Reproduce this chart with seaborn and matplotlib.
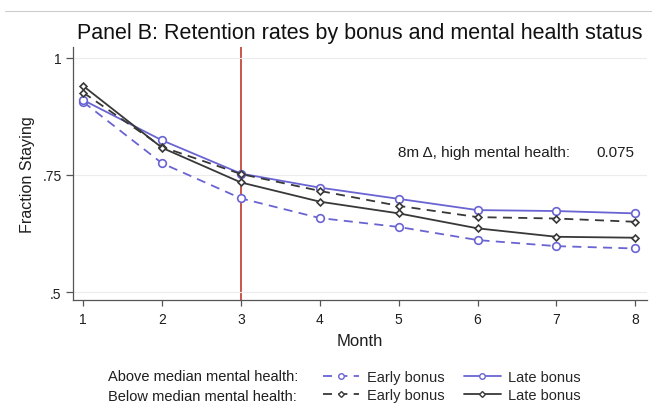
import matplotlib
matplotlib.use("Agg")
import matplotlib.pyplot as plt
from matplotlib.lines import Line2D
import seaborn as sns
import pandas as pd

months = [1, 2, 3, 4, 5, 6, 7, 8]
above_early = [0.906, 0.775, 0.700, 0.658, 0.639, 0.611, 0.598, 0.593]
above_late = [0.910, 0.824, 0.753, 0.723, 0.699, 0.675, 0.673, 0.668]
below_early = [0.926, 0.810, 0.752, 0.716, 0.684, 0.660, 0.657, 0.650]
below_late = [0.940, 0.808, 0.734, 0.693, 0.668, 0.636, 0.618, 0.616]
delta_high = 0.075

y_ticks = [0.5, 0.75, 1.0]
y_tick_labels = [".5", ".75", "1"]

BLUE = "#6a64d2"
DARK = "#383838"
RED = "#c0392b"
TXT = "#1e1e1e"
DASH = (0, (5, 3.5))

sns.set_theme(style="white")
plt.rcParams["font.family"] = ["Liberation Sans", "DejaVu Sans"]

fig = plt.figure(figsize=(6.52, 4.10), dpi=100)
ax = fig.add_axes([0.1115, 0.2659, 0.8805, 0.6171])

series = [
    (above_early, BLUE, DASH, "o", 5.5),
    (above_late, BLUE, "-", "o", 5.5),
    (below_early, DARK, DASH, "D", 3.5),
    (below_late, DARK, "-", "D", 3.5),
]
for vals, col, ls, mk, ms in series:
    df = pd.DataFrame({"Month": months, "value": vals})
    sns.lineplot(data=df, x="Month", y="value", ax=ax, color=col, linestyle=ls,
                 marker=mk, markersize=ms, markerfacecolor="white",
                 markeredgecolor=col, markeredgewidth=1.2, linewidth=1.3)

ax.axvline(3, color=RED, linewidth=1.2, zorder=0.5)

ax.set_xlim(0.866, 8.145)
ax.set_ylim(0.483, 1.0235)
ax.set_xticks(months)
ax.set_yticks(y_ticks)
ax.set_yticklabels(y_tick_labels)
ax.grid(axis="y", color="#ececec", linewidth=0.8)
ax.set_axisbelow(True)
for s in ["top", "right"]:
    ax.spines[s].set_visible(False)
for s in ["left", "bottom"]:
    ax.spines[s].set_color("#555555")
    ax.spines[s].set_linewidth(0.9)
ax.tick_params(axis="x", direction="out", length=4, width=0.9, color="#555555",
               labelsize=10, labelcolor=TXT, bottom=True, pad=5)
ax.tick_params(axis="y", direction="out", length=5, width=0.9, color="#555555",
               labelsize=10, labelcolor=TXT, left=True, pad=3)
ax.set_xlabel("Month", fontsize=12, color=TXT, labelpad=5)
ax.set_ylabel("Fraction Staying", fontsize=11.6, color=TXT, labelpad=5)

ax.text(0.566, 0.585, "8m \u0394, high mental health:", transform=ax.transAxes,
        fontsize=11, color=TXT, va="center", ha="left")
ax.text(0.979, 0.585, f"{delta_high:.3f}", transform=ax.transAxes,
        fontsize=11, color=TXT, va="center", ha="right")

fig.text(0.552, 0.9195, "Panel B: Retention rates by bonus and mental health status",
         ha="center", va="center", fontsize=15.5, color="#111111")

# thin rule across the top
fig.add_artist(Line2D([0.008, 1.0], [0.971, 0.971], transform=fig.transFigure,
                      color="#cccccc", linewidth=0.8))

# legend: row labels on the left, line keys in two columns
fig.text(0.1656, 0.0805, "Above median mental health:", fontsize=10.5, color=TXT,
         va="center", ha="left")
fig.text(0.1656, 0.0317, "Below median mental health:", fontsize=10.5, color=TXT,
         va="center", ha="left")
handles = [
    Line2D([], [], color=BLUE, linestyle=DASH, marker="o", markersize=4,
           markerfacecolor="white", markeredgecolor=BLUE, linewidth=1.3),
    Line2D([], [], color=DARK, linestyle=DASH, marker="D", markersize=3,
           markerfacecolor="white", markeredgecolor=DARK, linewidth=1.3),
    Line2D([], [], color=BLUE, linestyle="-", marker="o", markersize=4,
           markerfacecolor="white", markeredgecolor=BLUE, linewidth=1.3),
    Line2D([], [], color=DARK, linestyle="-", marker="D", markersize=3,
           markerfacecolor="white", markeredgecolor=DARK, linewidth=1.3),
]
labels = ["Early bonus", "Early bonus", "Late bonus", "Late bonus"]
fig.legend(handles, labels, ncol=2, loc="center left", bbox_to_anchor=(0.4954, 0.056),
           frameon=False, fontsize=10.5, handlelength=2.5, handletextpad=0.5,
           columnspacing=1.35, labelspacing=0.3, borderpad=0.0, borderaxespad=0.0)

fig.savefig("out.png", dpi=100, facecolor="white")
